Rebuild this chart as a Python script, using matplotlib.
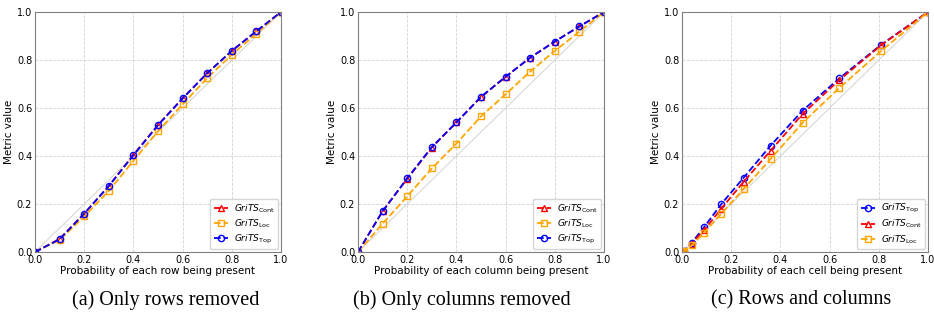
import matplotlib.pyplot as plt

# panel (a) and (b): probability of each row / column being present
p = [0.0, 0.1, 0.2, 0.3, 0.4, 0.5, 0.6, 0.7, 0.8, 0.9, 1.0]
# panel (c): probability of each cell being present
p_cell = [0.0, 0.01, 0.04, 0.09, 0.16, 0.25, 0.36, 0.49, 0.64, 0.81, 1.0]

rows_cont = [0.0, 0.055, 0.16, 0.275, 0.405, 0.53, 0.64, 0.745, 0.838, 0.92, 1.0]
rows_loc = [0.0, 0.05, 0.148, 0.255, 0.38, 0.503, 0.615, 0.725, 0.822, 0.91, 1.0]
rows_top = [0.0, 0.053, 0.16, 0.275, 0.403, 0.528, 0.64, 0.745, 0.838, 0.92, 1.0]

cols_cont = [0.0, 0.17, 0.305, 0.435, 0.54, 0.645, 0.73, 0.81, 0.877, 0.94, 1.0]
cols_loc = [0.0, 0.118, 0.232, 0.348, 0.452, 0.565, 0.657, 0.752, 0.838, 0.918, 1.0]
cols_top = [0.0, 0.17, 0.307, 0.437, 0.54, 0.647, 0.73, 0.81, 0.877, 0.94, 1.0]

cells_top = [0.0, 0.005, 0.039, 0.104, 0.2, 0.309, 0.443, 0.589, 0.724, 0.864, 1.0]
cells_cont = [0.0, 0.005, 0.035, 0.092, 0.181, 0.292, 0.422, 0.575, 0.717, 0.862, 1.0]
cells_loc = [0.0, 0.004, 0.028, 0.081, 0.16, 0.262, 0.387, 0.538, 0.684, 0.838, 1.0]

captions = ["(a) Only rows removed", "(b) Only columns removed", "(c) Rows and columns"]
xlabels = ["Probability of each row being present",
           "Probability of each column being present",
           "Probability of each cell being present"]

lab_cont = r'$GriTS_{\mathrm{Cont}}$'
lab_loc = r'$GriTS_{\mathrm{Loc}}$'
lab_top = r'$GriTS_{\mathrm{Top}}$'

styles = {
    'cont': dict(color='red', marker='^', linestyle='--', mfc='none', ms=4.5, lw=1.3, label=lab_cont),
    'loc': dict(color='orange', marker='s', linestyle='--', mfc='none', ms=4.5, lw=1.3, label=lab_loc),
    'top': dict(color='blue', marker='o', linestyle='--', mfc='none', ms=4.5, lw=1.3, label=lab_top),
}

fig = plt.figure(figsize=(9.34, 3.30), dpi=100)
lefts = [35 / 934, 358 / 934, 682 / 934]
cap_x = [166 / 934, 462 / 934, 801 / 934]

panels = [
    (p, [('cont', rows_cont), ('loc', rows_loc), ('top', rows_top)]),
    (p, [('cont', cols_cont), ('loc', cols_loc), ('top', cols_top)]),
    (p_cell, [('top', cells_top), ('cont', cells_cont), ('loc', cells_loc)]),
]

for i, (xs, series) in enumerate(panels):
    ax = fig.add_axes([lefts[i], 78 / 330, 246 / 934, 240 / 330])
    ax.plot([0, 1], [0, 1], color='lightgray', lw=0.7)
    for key, ys in series:
        ax.plot(xs, ys, **styles[key])
    ax.set_xlim(0, 1)
    ax.set_ylim(0, 1)
    ax.set_xticks([0, 0.2, 0.4, 0.6, 0.8, 1.0])
    ax.set_yticks([0, 0.2, 0.4, 0.6, 0.8, 1.0])
    ax.tick_params(labelsize=7, length=0, pad=2)
    ax.grid(True, linestyle='--', color='lightgray', lw=0.6)
    for s in ax.spines.values():
        s.set_color('gray')
    ax.set_xlabel(xlabels[i], fontsize=7.5, labelpad=1)
    ax.set_ylabel('Metric value', fontsize=7.5, labelpad=2)
    ax.legend(loc='lower right', fontsize=6.5, handlelength=1.6, borderpad=0.4,
              labelspacing=0.3, borderaxespad=0.3, handletextpad=0.6, fancybox=True)
    fig.text(cap_x[i], 30 / 330, captions[i], ha='center', va='center',
             fontsize=14.5, family='Liberation Serif')

fig.savefig('out.png', dpi=100)
